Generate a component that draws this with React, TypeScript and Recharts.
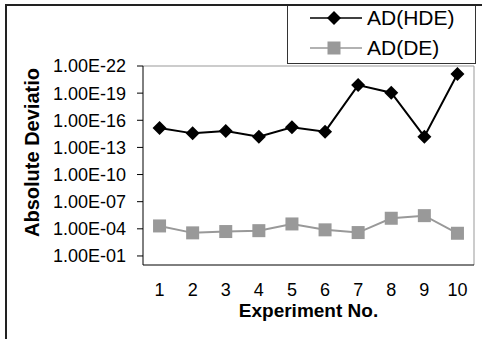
import React from 'react';
import { LineChart, Line, XAxis, YAxis, ReferenceLine } from 'recharts';

const experiments = [1, 2, 3, 4, 5, 6, 7, 8, 9, 10];
const adHDE = [7e-16, 2.8e-15, 1.5e-15, 6.5e-15, 6e-16, 1.8e-15, 1.3e-20, 9e-20, 6.5e-15, 7.6e-22];
const adDE = [4.8e-5, 2.8e-4, 2e-4, 1.6e-4, 2.9e-5, 1.3e-4, 2.6e-4, 6.8e-6, 3.5e-6, 3.1e-4];
const yTicks = [1e-22, 1e-19, 1e-16, 1e-13, 1e-10, 1e-7, 1e-4, 1e-1];
const yDomain = [1e-22, 1];

const series = [
  { key: 'hde', name: 'AD(HDE)', color: '#000000', marker: 'diamond' },
  { key: 'de', name: 'AD(DE)', color: '#999999', marker: 'square' },
];

const data = experiments.map((n, i) => ({ n, hde: adHDE[i], de: adDE[i] }));
// tick marks sit between the categories, like the spreadsheet axis
const boundaryTicks = [experiments[0] - 0.5, ...experiments.map(n => n + 0.5)];
const xDomain = [boundaryTicks[0], boundaryTicks[boundaryTicks.length - 1]];

const FONT = '"Liberation Sans", Arial, sans-serif';

const sci = (v: number) => {
  const [m, e] = v.toExponential(2).split('e');
  const exp = Number(e);
  return `${m}E${exp < 0 ? '-' : '+'}${String(Math.abs(exp)).padStart(2, '0')}`;
};

const Marker = ({ type, cx, cy, color }: { type: string; cx: number; cy: number; color: string }) =>
  type === 'diamond' ? (
    <path d={`M${cx},${cy - 7}L${cx + 7},${cy}L${cx},${cy + 7}L${cx - 7},${cy}Z`} fill={color} />
  ) : (
    <rect x={cx - 6.5} y={cy - 6.5} width={13} height={13} fill={color} />
  );

const makeDot = (type: string, color: string) => (p: any) =>
  <Marker key={p.index} type={type} cx={p.cx} cy={p.cy} color={color} />;

const YTitle = (p: any) => {
  const vb = p.viewBox;
  const cx = vb.x + 32;
  const cy = vb.y + vb.height / 2 - 13;
  return (
    <text x={cx} y={cy} transform={`rotate(-90 ${cx} ${cy})`} textAnchor="middle" dominantBaseline="central"
      fontFamily={FONT} fontSize={20} fontWeight="bold" fill="#000">
      Absolute Deviatio
    </text>
  );
};

const XTitle = (p: any) => {
  const vb = p.viewBox;
  return (
    <text x={vb.x + vb.width / 2} y={vb.y + 45} textAnchor="middle" fontFamily={FONT} fontSize={19} fontWeight="bold" fill="#000">
      Experiment No.
    </text>
  );
};

const App: React.FC = () => {
  return (
    <div style={{ position: 'absolute', left: 0, top: 0, width: 482, height: 339, overflow: 'hidden', background: '#fff', fontFamily: FONT }}>
      <div style={{ position: 'absolute', left: 5, top: 4, width: 600, height: 600, borderLeft: '2px solid #222', borderTop: '2px solid #222' }} />
      <LineChart width={482} height={339} data={data} margin={{ top: 66, right: 8, left: 0, bottom: 0 }} style={{ position: 'absolute', left: 0, top: 0 }}>
        <XAxis xAxisId="bounds" dataKey="n" type="number" domain={xDomain} ticks={boundaryTicks} tick={false}
          tickSize={6} height={7} stroke="#000" allowDataOverflow />
        <XAxis xAxisId="labels" dataKey="n" type="number" domain={xDomain} ticks={experiments} axisLine={false}
          tickLine={false} tickSize={0} tickMargin={11} height={67} interval={0}
          tick={{ fill: '#000', fontSize: 18, fontFamily: FONT }} label={<XTitle />} />
        <YAxis scale="log" type="number" domain={yDomain} ticks={yTicks} reversed allowDataOverflow width={143}
          tickFormatter={sci} tickSize={6} tickMargin={11} interval={0} stroke="#000"
          tick={{ fill: '#000', fontSize: 18, fontFamily: FONT }} label={<YTitle />} />
        <ReferenceLine xAxisId="labels" y={yDomain[0]} stroke="#999" />
        <ReferenceLine xAxisId="labels" x={xDomain[1]} stroke="#999" />
        {series.map(s => (
          <Line key={s.key} xAxisId="labels" dataKey={s.key} name={s.name} stroke={s.color} strokeWidth={2}
            dot={makeDot(s.marker, s.color)} activeDot={false} isAnimationActive={false} />
        ))}
      </LineChart>
      <div style={{ position: 'absolute', left: 287, top: 6, width: 187, height: 57, border: '1px solid #333', borderTop: 'none', background: '#fff' }}>
        {series.map((s, i) => (
          <div key={s.key} style={{ position: 'absolute', left: 22, top: i === 0 ? 0 : 30, height: 24, display: 'flex', alignItems: 'center' }}>
            <svg width={54} height={20}>
              <line x1={0} y1={10} x2={52} y2={10} stroke={s.color} strokeWidth={1.5} />
              <Marker type={s.marker} cx={24} cy={10} color={s.color} />
            </svg>
            <span style={{ fontSize: 21, color: '#000', marginLeft: 3, lineHeight: '24px' }}>{s.name}</span>
          </div>
        ))}
      </div>
    </div>
  );
};

export default App;
